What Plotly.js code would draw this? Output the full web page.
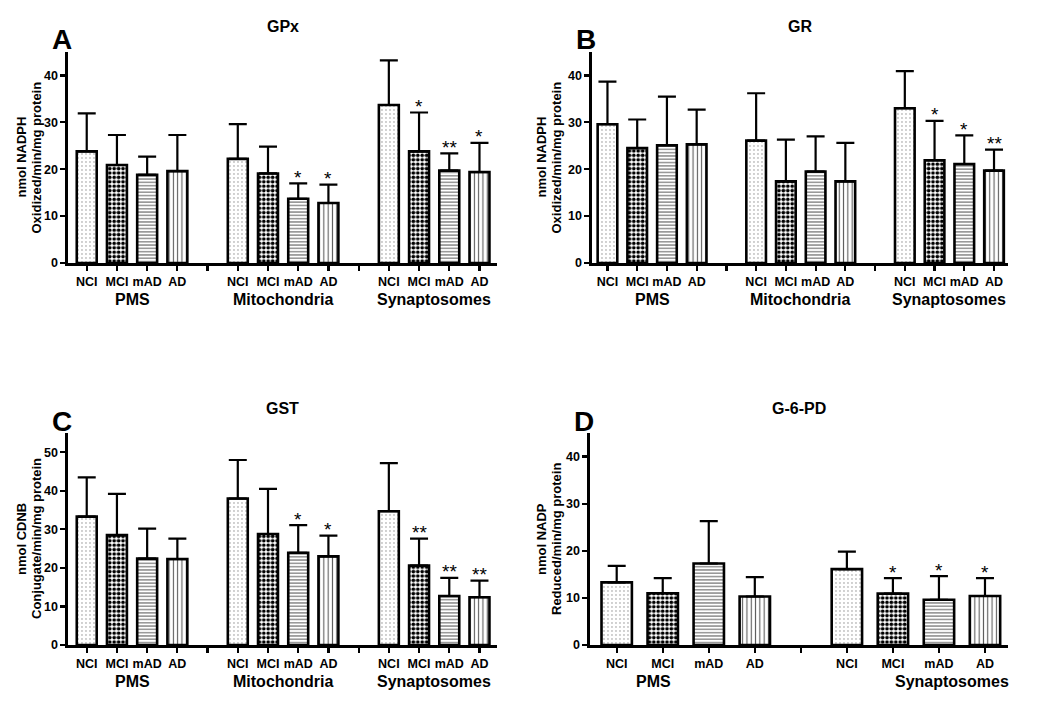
<!DOCTYPE html>
<html><head><meta charset="utf-8">
<script src="https://cdn.plot.ly/plotly-3.0.1.min.js"></script>
<style>html,body{margin:0;padding:0;background:#fff}#chart{width:1050px;height:707px}</style>
</head><body><div id="chart"></div>
<script>
// ---- data ----
const conditions = ["NCI", "MCI", "mAD", "AD"];
const fractions3 = ["PMS", "Mitochondria", "Synaptosomes"];
const fractions2 = ["PMS", "Synaptosomes"];

// A: GPx (PMS x4, Mitochondria x4, Synaptosomes x4)
const gpxMean = [23.8, 20.9, 18.8, 19.6, 22.2, 19.1, 13.7, 12.8, 33.7, 23.8, 19.7, 19.4];
const gpxErr  = [8.1, 6.4, 3.9, 7.7, 7.4, 5.7, 3.3, 3.9, 9.5, 8.3, 3.7, 6.2];
const gpxSig  = ["", "", "", "", "", "", "*", "*", "", "*", "**", "*"];

// B: GR
const grMean = [29.6, 24.5, 25.1, 25.3, 26.1, 17.4, 19.5, 17.4, 33.0, 21.9, 21.1, 19.7];
const grErr  = [9.1, 6.1, 10.4, 7.4, 10.1, 8.9, 7.5, 8.2, 7.9, 8.4, 6.1, 4.5];
const grSig  = ["", "", "", "", "", "", "", "", "", "*", "*", "**"];

// C: GST
const gstMean = [33.3, 28.5, 22.4, 22.3, 38.0, 28.8, 23.9, 23.0, 34.7, 20.6, 12.7, 12.4];
const gstErr  = [10.2, 10.7, 7.8, 5.3, 10.0, 11.7, 7.2, 5.4, 12.5, 7.0, 4.7, 4.3];
const gstSig  = ["", "", "", "", "", "", "*", "*", "", "**", "**", "**"];

// D: G-6-PD (PMS x4, Synaptosomes x4)
const g6pdMean = [13.3, 11.0, 17.3, 10.3, 16.1, 10.9, 9.6, 10.4];
const g6pdErr  = [3.5, 3.2, 9.0, 4.1, 3.7, 3.3, 5.0, 3.8];
const g6pdSig  = ["", "", "", "", "", "*", "*", "*"];

// ---- styles ----
const FONT = "Arial, 'Liberation Sans', Helvetica, sans-serif";
const patternStyle = {
  NCI: {shape: ".", fg: "#8a8a8a", size: 4, solidity: 0.1},
  MCI: {shape: ".", fg: "#000000", size: 4.4, solidity: 0.55},
  mAD: {shape: "-", fg: "#555555", size: 3.3, solidity: 0.3},
  AD:  {shape: "|", fg: "#555555", size: 4.3, solidity: 0.25}
};

const W = 1050, H = 707;
const px2x = p => p / W;
const px2y = p => 1 - p / H;

const panels = [
  {letter: "A", title: "GPx", ytitle: ["nmol NADPH", "Oxidized/min/mg protein"],
   mean: gpxMean, err: gpxErr, sig: gpxSig, groups: fractions3, ymax: 45, ticks: [0,10,20,30,40],
   dom: [68, 497, 52, 263], xr: [-0.62, 13.58], ytx: [21, 36]},
  {letter: "B", title: "GR", ytitle: ["nmol NADPH", "Oxidized/min/mg protein"],
   mean: grMean, err: grErr, sig: grSig, groups: fractions3, ymax: 45, ticks: [0,10,20,30,40],
   dom: [592, 1008, 52, 263], xr: [-0.52, 13.47], ytx: [541, 556]},
  {letter: "C", title: "GST", ytitle: ["nmol CDNB", "Conjugate/min/mg protein"],
   mean: gstMean, err: gstErr, sig: gstSig, groups: fractions3, ymax: 55, ticks: [0,10,20,30,40,50],
   dom: [68, 497, 433, 645], xr: [-0.62, 13.58], ytx: [21, 36]},
  {letter: "D", title: "G-6-PD", ytitle: ["nmol NADP", "Reduced/min/mg protein"],
   mean: g6pdMean, err: g6pdErr, sig: g6pdSig, groups: fractions2, ymax: 45, ticks: [0,10,20,30,40],
   dom: [590, 1008, 433, 645], xr: [-0.58, 8.5], ytx: [541, 556]}
];

const traces = [];
const annotations = [];
const layout = {
  width: W, height: H,
  margin: {l: 0, r: 0, t: 0, b: 0},
  paper_bgcolor: "#fff", plot_bgcolor: "#fff",
  showlegend: false,
  font: {family: FONT, color: "#000"},
  annotations: annotations
};

panels.forEach((p, i) => {
  const n = i + 1;
  const xa = "x" + (n === 1 ? "" : n), ya = "y" + (n === 1 ? "" : n);
  const xkey = "xaxis" + (n === 1 ? "" : n), ykey = "yaxis" + (n === 1 ? "" : n);

  // positions: each group of 4 conditions, one empty slot between groups
  const xs = [], conds = [], tickvals = [], ticktext = [];
  p.groups.forEach((g, gi) => {
    conditions.forEach((c, ci) => {
      xs.push(gi * 5 + ci);
      conds.push(c);
      tickvals.push(gi * 5 + ci);
      ticktext.push(c);
    });
    if (gi < p.groups.length - 1) { tickvals.push(gi * 5 + 4); ticktext.push(""); }
  });

  traces.push({
    type: "bar", x: xs, y: p.mean, xaxis: xa, yaxis: ya, width: 0.66,
    marker: {
      color: "#ffffff",
      line: {color: "#000", width: 2.6},
      pattern: {
        shape: conds.map(c => patternStyle[c].shape),
        fgcolor: conds.map(c => patternStyle[c].fg),
        bgcolor: "#ffffff",
        size: conds.map(c => patternStyle[c].size),
        solidity: conds.map(c => patternStyle[c].solidity),
        fillmode: "replace"
      }
    },
    error_y: {type: "data", symmetric: false, array: p.err, arrayminus: p.mean.map(() => 0),
              color: "#000", thickness: 2.2, width: 9},
    hoverinfo: "skip"
  });

  // significance stars above the error bar caps
  xs.forEach((x, k) => {
    if (!p.sig[k]) return;
    annotations.push({
      xref: xa, yref: ya, x: x, y: p.mean[k] + p.err[k],
      text: p.sig[k], showarrow: false, xanchor: "center", yanchor: "middle", yshift: 6,
      font: {family: FONT, size: 19, color: "#000"}
    });
  });

  const [x0, x1, yt, yb] = p.dom;
  layout[xkey] = {
    domain: [px2x(x0), px2x(x1)], anchor: ya, range: p.xr,
    tickmode: "array", tickvals: tickvals, ticktext: ticktext,
    showline: true, linecolor: "#000", linewidth: 2.6,
    ticks: "outside", ticklen: 5, tickwidth: 2.2, tickcolor: "#000",
    showgrid: false, zeroline: false, fixedrange: true,
    tickfont: {family: FONT, size: 12.5, weight: "bold", color: "#000"}
  };
  layout[ykey] = {
    domain: [px2y(yb), px2y(yt)], anchor: xa, range: [0, p.ymax],
    tickmode: "array", tickvals: p.ticks,
    showline: true, linecolor: "#000", linewidth: 2.6,
    ticks: "outside", ticklen: 5, tickwidth: 2.2, tickcolor: "#000",
    showgrid: false, zeroline: false, fixedrange: true,
    tickfont: {family: FONT, size: 12.5, weight: "bold", color: "#000"}
  };

  // y-axis title (two lines)
  p.ytitle.forEach((line, li) => {
    annotations.push({
      xref: "paper", yref: "paper", x: px2x(p.ytx[li]), y: px2y((yt + yb) / 2),
      text: line, showarrow: false, textangle: -90, xanchor: "center", yanchor: "middle",
      font: {family: FONT, size: 13, weight: "bold", color: "#000"}
    });
  });

  // panel title
  annotations.push({
    xref: "paper", yref: "paper", x: px2x((x0 + x1) / 2), y: px2y(yt - 25),
    text: p.title, showarrow: false, xanchor: "center", yanchor: "middle",
    font: {family: FONT, size: 16, weight: "bold", color: "#000"}
  });
  // panel letter
  annotations.push({
    xref: "paper", yref: "paper", x: px2x(x0 - 6), y: px2y(yt - 12),
    text: p.letter, showarrow: false, xanchor: "center", yanchor: "middle",
    font: {family: FONT, size: 28, weight: "bold", color: "#000"}
  });
  // group labels
  const labelY = px2y(yb + 36);
  if (p.groups.length === 3) {
    p.groups.forEach((g, gi) => {
      annotations.push({
        xref: xa, yref: "paper", x: gi * 5 + 1.5, y: labelY,
        text: g, showarrow: false, xanchor: "center", yanchor: "middle",
        font: {family: FONT, size: 16, weight: "bold", color: "#000"}
      });
    });
  } else {
    const gx = [653, 952];
    p.groups.forEach((g, gi) => {
      annotations.push({
        xref: "paper", yref: "paper", x: px2x(gx[gi]), y: labelY,
        text: g, showarrow: false, xanchor: "center", yanchor: "middle",
        font: {family: FONT, size: 16, weight: "bold", color: "#000"}
      });
    });
  }
});

Plotly.newPlot("chart", traces, layout, {displayModeBar: false, staticPlot: true});
</script>
</body></html>
